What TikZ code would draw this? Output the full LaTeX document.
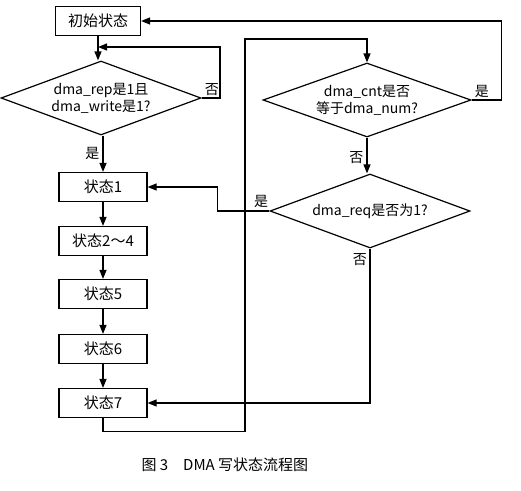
\documentclass[tikz,border=0pt]{standalone}
\usepackage{fontspec}
\newfontfamily\cjk{Noto Sans CJK SC}
\usetikzlibrary{shapes.geometric, arrows.meta, positioning, calc}

\begin{document}
\begin{tikzpicture}[x=1pt, y=-1pt,
  statebox/.style={draw, line width=1.2pt, minimum width=88pt, minimum height=29pt, inner sep=0pt, font=\cjk\fontsize{15}{17}\selectfont},
  decision/.style={draw, diamond, line width=1.2pt, minimum width=200pt, minimum height=74pt, inner sep=0pt, aspect=2.7, align=center, font=\cjk\fontsize{14}{17}\selectfont},
  flow/.style={-{Triangle[length=9pt,width=7pt]}, line width=1.2pt},
  lbl/.style={font=\cjk\fontsize{14}{16}\selectfont, inner sep=1pt}]
  \useasboundingbox (0,0) rectangle (521,490);

  % Left column: states
  \node[statebox, minimum width=85pt] (init) at (98, 21) {初始状态};
  \node[decision] (d1) at (101, 98) {dma\_rep是1且\\dma\_write是1?};
  \node[statebox] (s1) at (103, 187) {状态1};
  \node[statebox] (s24) at (103, 241) {状态2～4};
  \node[statebox] (s5) at (103, 294) {状态5};
  \node[statebox] (s6) at (103, 349) {状态6};
  \node[statebox] (s7) at (103, 403) {状态7};

  % Right column: decisions
  \node[decision, minimum width=208pt] (d2) at (367, 100) {dma\_cnt是否\\等于dma\_num?};
  \node[decision] (d3) at (370, 211) {dma\_req是否为1?};

  % Helper points for the loops
  \coordinate (loopin) at (98, 47);
  \coordinate (loopr) at (220, 47);
  \coordinate (back) at (245, 39);

  % Left column arrows
  \draw[flow] (init) -- (d1.north -| init);
  \draw[flow] (d1.east) -| (loopr) -- (loopin);
  \node[lbl, above right=1pt and 2pt] at (d1.east) {否};
  \draw[flow] (d1.south -| s1) -- (s1) node[lbl, pos=0.5, left=2pt] {是};
  \draw[flow] (s1) -- (s24);
  \draw[flow] (s24) -- (s5);
  \draw[flow] (s5) -- (s6);
  \draw[flow] (s6) -- (s7);

  % Back to the right column
  \draw[flow] (s7.south) -- ++(0, 13) -| (back) -| (d2.north);
  \draw[flow] (d2.east) -- ++(30, 0) |- (init.east);
  \node[lbl, above right=1pt and 2pt] at (d2.east) {是};
  \draw[flow] (d2.south) -- (d3.north -| d2.south) node[lbl, pos=0.55, left=2pt] {否};
  \draw[flow] (d3.west) -- ++(-52, 0) |- (s1.east);
  \node[lbl, above left=2pt and 0pt] at (d3.west) {是};
  \draw[flow] (d3.south) |- (s7.east);
  \node[lbl, below left=4pt and 2pt] at (d3.south) {否};

  % Caption
  \node[font=\cjk\fontsize{15}{17}\selectfont, anchor=west] (cap) at (138, 465) {图 3\quad DMA 写状态流程图};
\end{tikzpicture}
\end{document}
